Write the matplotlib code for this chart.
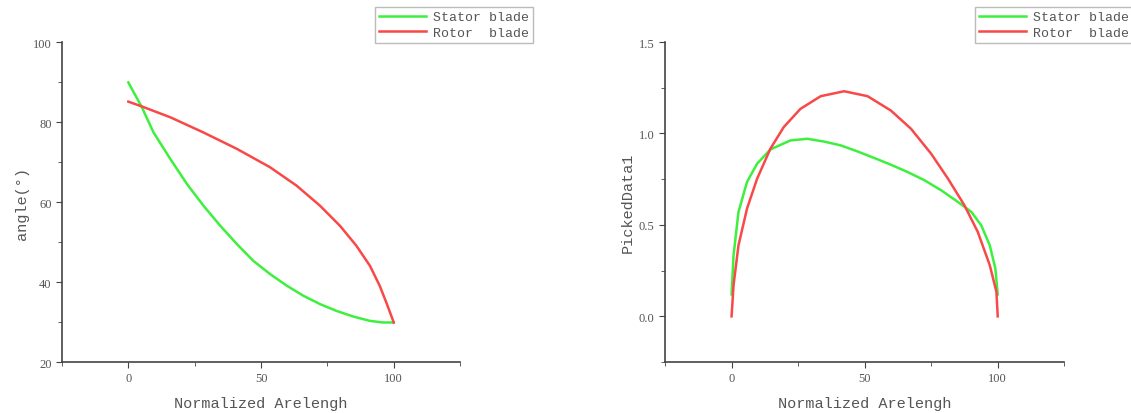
import matplotlib.pyplot as plt
from matplotlib.ticker import MultipleLocator

# angle along blade (left panel)
stator_angle_x = [0, 5.1, 9.5, 15.8, 22.1, 28.3, 34.6, 40.9, 47.1, 53.4, 59.7, 65.9,
                  72.2, 78.4, 84.7, 91.0, 96.0, 100]
stator_angle_y = [89.9, 83.7, 77.4, 70.8, 64.5, 59.1, 54.1, 49.5, 45.3, 42.0, 39.1, 36.6,
                  34.5, 32.8, 31.4, 30.3, 29.9, 29.9]
rotor_angle_x = [0, 5.1, 15.8, 28.3, 40.9, 53.4, 63.4, 72.2, 79.7, 85.9, 91.0, 94.7, 97.2, 100]
rotor_angle_y = [85.1, 83.9, 81.2, 77.4, 73.3, 68.7, 64.1, 59.1, 54.1, 49.1, 44.1, 39.1, 34.9, 29.9]

# picked data along blade (right panel)
stator_pd_x = [0, 0.75, 2.6, 5.8, 9.6, 14.6, 22.1, 28.4, 34.7, 41.0, 47.3, 53.6, 59.9,
               66.2, 72.5, 78.8, 85.0, 90.1, 93.8, 97.0, 99.1, 100]
stator_pd_y = [0.12, 0.334, 0.571, 0.735, 0.835, 0.913, 0.962, 0.971, 0.956, 0.935, 0.902, 0.866, 0.829,
               0.789, 0.744, 0.689, 0.626, 0.571, 0.498, 0.389, 0.262, 0.12]
rotor_pd_x = [0, 0.75, 2.6, 5.8, 9.6, 14.6, 19.6, 25.9, 33.5, 42.3, 51.1, 59.9, 67.4,
              75.0, 81.3, 87.5, 92.5, 97.0, 99.5, 100]
rotor_pd_y = [0, 0.171, 0.389, 0.589, 0.753, 0.917, 1.035, 1.135, 1.204, 1.231, 1.204, 1.125, 1.026,
              0.889, 0.753, 0.607, 0.462, 0.280, 0.135, 0]

GREEN = "#3ef03e"
RED = "#f84848"
GREY = "#555555"
MONO = "Liberation Mono"
SERIF = "Liberation Serif"


def style_axes(ax, ylabel):
    for s in ("top", "right"):
        ax.spines[s].set_visible(False)
    for s in ("left", "bottom"):
        ax.spines[s].set_color("#444444")
        ax.spines[s].set_linewidth(1.2)
    ax.set_xlim(-25, 125)
    ax.xaxis.set_major_locator(MultipleLocator(50))
    ax.xaxis.set_minor_locator(MultipleLocator(25))
    ax.set_xticks([0, 50, 100])
    ax.tick_params(which="both", direction="out", colors="#444444", labelcolor=GREY, labelsize=9)
    ax.tick_params(which="major", length=4)
    ax.tick_params(which="minor", length=3)
    for lab in ax.get_xticklabels() + ax.get_yticklabels():
        lab.set_fontfamily(SERIF)
    ax.set_xlabel("Normalized Arelengh", fontfamily=MONO, fontsize=11, color=GREY, labelpad=8)
    ax.set_ylabel(ylabel, fontfamily=MONO, fontsize=11, color=GREY, labelpad=3)


fig = plt.figure(figsize=(11.31, 4.14), dpi=100)
ax1 = fig.add_axes([0.0548, 0.123, 0.352, 0.773])
ax2 = fig.add_axes([0.588, 0.123, 0.353, 0.773])

l1, = ax1.plot(stator_angle_x, stator_angle_y, color=GREEN, lw=1.8, label="Stator blade")
l2, = ax1.plot(rotor_angle_x, rotor_angle_y, color=RED, lw=1.8, label="Rotor  blade")
ax1.set_ylim(20, 100)
ax1.yaxis.set_major_locator(MultipleLocator(20))
ax1.yaxis.set_minor_locator(MultipleLocator(10))
style_axes(ax1, "angle(°)")

ax2.plot(stator_pd_x, stator_pd_y, color=GREEN, lw=1.8, label="Stator blade")
ax2.plot(rotor_pd_x, rotor_pd_y, color=RED, lw=1.8, label="Rotor  blade")
ax2.set_ylim(-0.25, 1.5)
ax2.yaxis.set_major_locator(MultipleLocator(0.5))
ax2.yaxis.set_minor_locator(MultipleLocator(0.25))
ax2.set_yticks([0.0, 0.5, 1.0, 1.5])
ax2.set_yticklabels(["0.0", "0.5", "1.0", "1.5"])
style_axes(ax2, "PickedData1")

legend_kw = dict(loc="upper left", fancybox=False, framealpha=1, edgecolor="#bbbbbb",
                 prop={"family": MONO, "size": 9.5}, handlelength=3.6, borderpad=0.3,
                 labelspacing=0.25, handletextpad=0.5, borderaxespad=0)
leg1 = fig.legend(handles=[l1, l2], bbox_to_anchor=(375 / 1131, 1 - 8 / 414), **legend_kw)
leg2 = fig.legend(handles=[l1, l2], bbox_to_anchor=(975 / 1131, 1 - 8 / 414), **legend_kw)
for leg in (leg1, leg2):
    leg.get_frame().set_linewidth(1.0)
    for t in leg.get_texts():
        t.set_color(GREY)

fig.savefig("out.png", dpi=100)
